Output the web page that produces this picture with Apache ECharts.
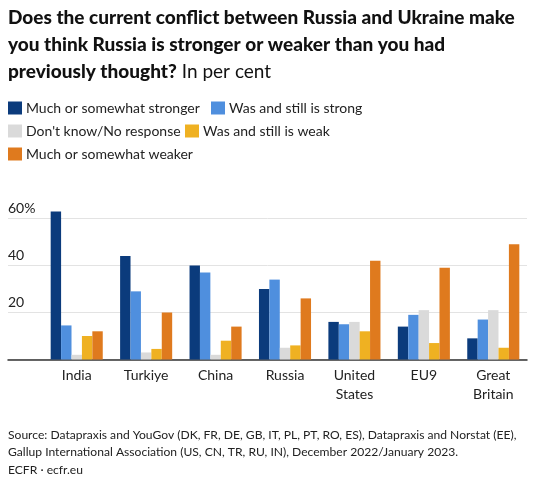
<!DOCTYPE html>
<html>
<head>
<meta charset="utf-8">
<script src="https://cdn.jsdelivr.net/npm/echarts@6/dist/echarts.min.js"></script>
<style>
html,body{margin:0;padding:0;background:#fff;}
#chart{width:539px;height:484px;}
</style>
</head>
<body>
<div id="chart"></div>
<script>
var categories = ['India', 'Turkiye', 'China', 'Russia', 'United\nStates', 'EU9', 'Great\nBritain'];
var seriesNames = ['Much or somewhat stronger', 'Was and still is strong', "Don't know/No response", 'Was and still is weak', 'Much or somewhat weaker'];
var muchStronger = [63, 44, 40, 30, 16, 14, 9];
var stillStrong = [14.5, 29, 37, 34, 15, 19, 17];
var dontKnow = [2, 3, 2, 5, 16, 21, 21];
var stillWeak = [10, 4.5, 8, 6, 12, 7, 5];
var muchWeaker = [12, 20, 14, 26, 42, 39, 49];
var yTicks = [0, 20, 40, 60];

var colors = ['#0B3B7C', '#4F8FDE', '#DADADA', '#EFB122', '#DF7A1E'];
var values = [muchStronger, stillStrong, dontKnow, stillWeak, muchWeaker];
var FONT = 'Lato';

var chart = echarts.init(document.getElementById('chart'), null, {renderer: 'canvas'});

var series = seriesNames.map(function (name, i) {
  return {
    name: name,
    type: 'bar',
    xAxisIndex: 1,
    yAxisIndex: 1,
    data: values[i],
    itemStyle: {color: colors[i]},
    barGap: '0%',
    barCategoryGap: '25%',
    clip: false,
    emphasis: {disabled: true}
  };
});

function legend(idx, left, top) {
  return {
    data: [seriesNames[idx]],
    left: left, top: top,
    icon: 'rect',
    itemWidth: 14, itemHeight: 13,
    itemGap: 0,
    padding: 0,
    selectedMode: false,
    textStyle: {fontFamily: FONT, fontSize: 14, color: '#222', padding: [0, 0, 0, -1]}
  };
}

var option = {
  animation: false,
  backgroundColor: '#fff',
  title: {
    left: 8, top: 4,
    padding: 0,
    text: '{b|Does the current conflict between Russia and Ukraine make}\n{b|you think Russia is stronger or weaker than you had}\n{b|previously thought?} {n|In per cent}',
    textStyle: {
      rich: {
        b: {fontFamily: FONT, fontWeight: 900, fontSize: 19, color: '#111', lineHeight: 27},
        n: {fontFamily: FONT, fontWeight: 'normal', fontSize: 19, color: '#111', lineHeight: 27}
      }
    }
  },
  legend: [
    legend(0, 8, 101),
    legend(1, 211, 101),
    legend(2, 8, 124),
    legend(3, 185, 124),
    legend(4, 8, 147)
  ],
  grid: [
    {left: 8, right: 12, top: 218.5, bottom: 124.5},
    {left: 42, right: 11, top: 218.5, bottom: 124.5}
  ],
  xAxis: [
    {
      type: 'value', gridIndex: 0, min: 0, max: 1,
      axisLine: {show: true, onZero: false, lineStyle: {color: '#333', width: 1.5}},
      axisTick: {show: false}, axisLabel: {show: false}, splitLine: {show: false}
    },
    {
      type: 'category', gridIndex: 1, data: categories,
      axisLine: {show: false}, axisTick: {show: false},
      axisLabel: {fontFamily: FONT, fontSize: 14, color: '#222', margin: 6, lineHeight: 19, interval: 0}
    }
  ],
  yAxis: [
    {
      type: 'value', gridIndex: 0, min: yTicks[0], max: yTicks[yTicks.length - 1], interval: 20,
      axisLine: {show: false}, axisTick: {show: false},
      splitLine: {lineStyle: {color: '#E3E3E3', width: 1}},
      axisLabel: {
        inside: true, margin: 0, verticalAlign: 'bottom',
        fontFamily: FONT, fontSize: 14, color: '#222', padding: [0, 0, 3, 0],
        formatter: function (v) { return v === 0 ? '' : (v === 60 ? v + '%' : String(v)); }
      }
    },
    {
      type: 'value', gridIndex: 1, min: yTicks[0], max: yTicks[yTicks.length - 1], interval: 20,
      show: false
    }
  ],
  graphic: [
    {
      type: 'text', left: 8, top: 426,
      style: {
        text: 'Source: Datapraxis and YouGov (DK, FR, DE, GB, IT, PL, PT, RO, ES), Datapraxis and Norstat (EE),\nGallup International Association (US, CN, TR, RU, IN), December 2022/January 2023.\nECFR · ecfr.eu',
        fontFamily: FONT, fontSize: 12.1, lineHeight: 17.7, fill: '#222'
      }
    }
  ],
  series: series
};

chart.setOption(option);
</script>
</body>
</html>
